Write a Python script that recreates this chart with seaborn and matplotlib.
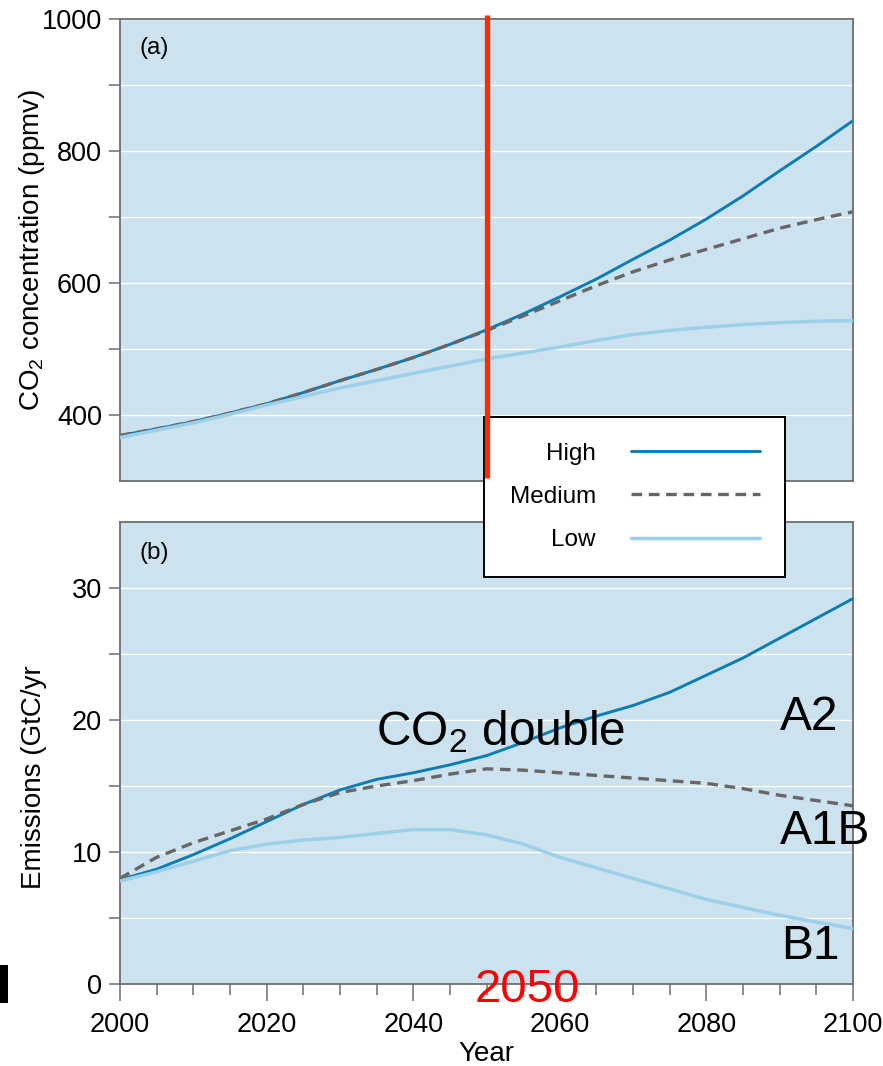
import matplotlib
matplotlib.use("Agg")
import matplotlib.pyplot as plt
import numpy as np
import pandas as pd
import seaborn as sns
from matplotlib.lines import Line2D
from matplotlib.patches import Rectangle

# ---- data -------------------------------------------------------------
years = list(range(2000, 2101, 5))

# CO2 concentration (ppmv)
co2_high = [369, 379, 390, 403, 417, 434, 452, 469, 487, 507, 529,
            553, 579, 606, 636, 665, 697, 732, 770, 807, 846]
co2_medium = [369, 379, 390, 403, 417, 434, 452, 469, 487, 507, 528,
              550, 573, 596, 617, 635, 651, 667, 683, 696, 708]
co2_low = [366, 377, 388, 401, 415, 428, 441, 452, 463, 474, 485,
           494, 503, 513, 522, 528, 533, 537, 540, 542, 543]

# CO2 emissions (GtC/yr)
em_high = [7.9, 8.7, 9.8, 11.0, 12.3, 13.6, 14.7, 15.5, 16.0, 16.6, 17.3,
           18.3, 19.4, 20.3, 21.1, 22.1, 23.4, 24.7, 26.2, 27.7, 29.2]
em_medium = [8.0, 9.6, 10.7, 11.6, 12.5, 13.6, 14.5, 15.0, 15.4, 15.9, 16.3,
             16.2, 16.0, 15.8, 15.6, 15.4, 15.2, 14.8, 14.3, 13.9, 13.5]
em_low = [7.8, 8.5, 9.3, 10.1, 10.6, 10.9, 11.1, 11.4, 11.7, 11.7, 11.3,
          10.6, 9.6, 8.8, 8.0, 7.2, 6.4, 5.8, 5.2, 4.7, 4.2]

scenario_labels = ["High", "Medium", "Low"]
scenario_names = ["A2", "A1B", "B1"]
doubling_year = 2050

# ---- style ------------------------------------------------------------
sns.set_style("ticks")
plt.rcParams["font.family"] = ["Liberation Sans", "DejaVu Sans"]
plt.rcParams["mathtext.fontset"] = "custom"
plt.rcParams["mathtext.rm"] = "Liberation Sans"
plt.rcParams["mathtext.it"] = "Liberation Sans:italic"
plt.rcParams["mathtext.default"] = "regular"
for key in ("text.color", "axes.labelcolor", "xtick.labelcolor",
            "ytick.labelcolor"):
    plt.rcParams[key] = "black"

panel_bg = "#cce3ef"
spine_col = "#6e6e6e"
styles = {
    "High": dict(color="#0b7db3", lw=2.1),
    "Medium": dict(color="#666666", lw=2.4, dashes=(3.2, 2.0)),
    "Low": dict(color="#9ccfe8", lw=2.5),
}

tick_fs = 19.5
label_fs = 20

W, H = 883, 1066
fig = plt.figure(figsize=(W / 100, H / 100), dpi=100)
ax1 = fig.add_axes([120 / W, 1 - 481 / H, 733 / W, 462 / H])
ax2 = fig.add_axes([120 / W, 1 - 984 / H, 733 / W, 462 / H])

df_co2 = pd.DataFrame({"year": years, "High": co2_high,
                       "Medium": co2_medium, "Low": co2_low})
df_em = pd.DataFrame({"year": years, "High": em_high,
                      "Medium": em_medium, "Low": em_low})

for ax, df in ((ax1, df_co2), (ax2, df_em)):
    ax.set_facecolor(panel_bg)
    for lab in scenario_labels:
        sns.lineplot(data=df, x="year", y=lab, ax=ax, legend=False,
                     errorbar=None, label=lab, zorder=3, **styles[lab])
    ax.set_xlim(2000, 2100)
    ax.yaxis.grid(True, which="both", color="white", lw=1.0, zorder=1)
    ax.xaxis.grid(False)
    ax.set_axisbelow(True)
    for sp in ax.spines.values():
        sp.set_visible(True)
        sp.set_color(spine_col)
        sp.set_linewidth(1.3)
    ax.tick_params(axis="y", which="both", direction="out", color=spine_col,
                   width=1.1, labelsize=tick_fs, pad=5, length=8)

# panel (a): concentration
ax1.set_ylim(300, 1000)
ax1.set_yticks([400, 600, 800, 1000])
ax1.set_yticks([500, 700, 900], minor=True)
ax1.tick_params(axis="x", which="both", bottom=False, labelbottom=False)
ax1.set_xlabel("")
ax1.set_ylabel("CO$_2$ concentration (ppmv)", fontsize=label_fs)
ax1.yaxis.set_label_coords(-0.1, 0.5)
ax1.text(0.027, 0.937, "(a)", transform=ax1.transAxes, fontsize=17.5,
         ha="left", va="center")

# panel (b): emissions
ax2.set_ylim(0, 35)
ax2.set_yticks([0, 10, 20, 30])
ax2.set_yticks([5, 15, 25], minor=True)
ax2.set_xticks(range(2000, 2101, 20))
ax2.set_xticks(range(2000, 2101, 5), minor=True)
ax2.tick_params(axis="x", which="both", direction="out", color=spine_col,
                width=1.1, labelsize=tick_fs, pad=8)
ax2.tick_params(axis="x", which="major", length=12)
ax2.tick_params(axis="x", which="minor", length=8)
ax2.set_xlabel("Year", fontsize=label_fs, labelpad=2)
ax2.set_ylabel("Emissions (GtC/yr", fontsize=label_fs)
ax2.yaxis.set_label_coords(-0.1, 0.448)
ax2.text(0.027, 0.933, "(b)", transform=ax2.transAxes, fontsize=17.5,
         ha="left", va="center")

# scenario names at the right end of the emission curves
big = 34.5
ax2.text(2090.0, 19.24, scenario_names[0], fontsize=big, ha="left", va="baseline")
ax2.text(2090.0, 10.6, scenario_names[1], fontsize=big, ha="left", va="baseline",
         clip_on=False, zorder=6)
ax2.text(2090.2, 1.9, scenario_names[2], fontsize=big, ha="left", va="baseline")
ax2.text(2051.9, 18.1, "CO$_2$ double", fontsize=big, ha="center", va="baseline",
         zorder=6)
ax2.text(2055.5, -1.34, str(doubling_year), fontsize=34, color="#ff0000",
         ha="center", va="baseline", clip_on=False, zorder=10)

# legend spanning the gap between the panels
handles, labels = ax1.get_legend_handles_labels()
leg = fig.legend(handles, labels, loc="upper left",
                 bbox_to_anchor=(484 / W, 1 - 417 / H),
                 bbox_transform=fig.transFigure, borderaxespad=0,
                 markerfirst=False, fontsize=17.5, frameon=True,
                 fancybox=False, framealpha=1, facecolor="white",
                 edgecolor="black", borderpad=1.05, labelspacing=0.88,
                 handlelength=5.3, handletextpad=1.44)
leg.get_frame().set_linewidth(1.4)
leg.set_zorder(5)

# year of CO2 doubling marked across panel (a)
marker = Line2D([doubling_year, doubling_year], [304.5, 1006],
                transform=ax1.transData, color="#ff2a00", lw=3.8,
                solid_capstyle="butt", zorder=7)
fig.add_artist(marker)

# small black bar at the lower left edge
fig.add_artist(Rectangle((0, 1 - 1003 / H), 8 / W, 38 / H,
                         transform=fig.transFigure, color="black", lw=0))

fig.savefig("out.png", dpi=100)
